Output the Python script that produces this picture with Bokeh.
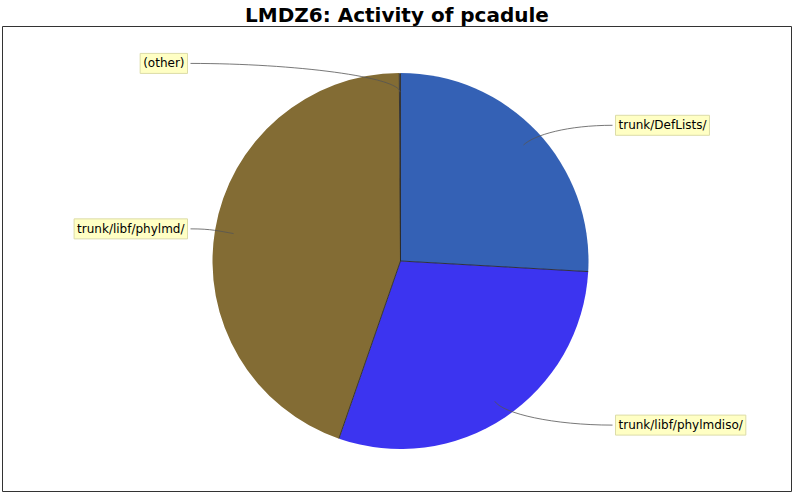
import math
from bokeh.plotting import figure
from bokeh.models import Range1d, ColumnDataSource
from bokeh.core.properties import value
from bokeh.embed import file_html
from bokeh.resources import INLINE

# ---- data (clockwise from 12 o'clock) ----
categories = ["trunk/DefLists/", "trunk/libf/phylmdiso/", "trunk/libf/phylmd/", "(other)"]
shares = [25.9, 29.4, 44.6, 0.1]
colors = ["#3461B5", "#3C34F0", "#836C34", "#7F7F7F"]
title = "LMDZ6: Activity of pcadule"

# ---- layout constants (pixels == data units) ----
R = 188.0
ANCHOR_F = 0.9
LABEL_R = 198.0
RIGHT_X = 212.0
LEFT_X = -210.0

total = float(sum(shares))
starts, ends, mids = [], [], []
a = math.pi / 2
for v in shares:
    b = a - v / total * 2 * math.pi
    starts.append(b)
    ends.append(a)
    mids.append((a + b) / 2)
    a = b

p = figure(width=792, height=492, output_backend="svg", toolbar_location=None,
           x_range=Range1d(-398, 391), y_range=Range1d(-231, 235),
           x_axis_location=None, y_axis_location=None,
           min_border_left=2, min_border_right=1, min_border_bottom=1, min_border_top=0)
p.grid.visible = False
p.outline_line_color = "#333333"
p.outline_line_width = 1
p.background_fill_color = "white"
p.border_fill_color = "white"
p.title.text = title
p.title.align = "center"
p.title.text_font = "DejaVu Sans"
p.title.text_font_size = "20px"
p.title.text_font_style = "bold"
p.title.text_color = "black"
p.title.standoff = 0
p.title.offset = 0

src = ColumnDataSource(dict(start=starts, end=ends, color=colors, cat=categories))
p.wedge(x=0, y=0, radius=R, start_angle="start", end_angle="end", direction="anticlock",
        fill_color="color", line_color=None, source=src)

# separators
bx = [R * math.cos(t) for t in ends]
by = [R * math.sin(t) for t in ends]
p.segment(x0=[0] * len(bx), y0=[0] * len(by), x1=bx, y1=by, line_color="#2A2A2A", line_width=0.9)

# leader lines + labels
ax = [ANCHOR_F * R * math.cos(m) for m in mids]
ay = [ANCHOR_F * R * math.sin(m) for m in mids]
ly = [LABEL_R * math.sin(m) for m in mids]
right = [math.cos(m) >= 0 for m in mids]
lx = [RIGHT_X if r else LEFT_X for r in right]
c0x = [0.98 * R * math.cos(m) for m in mids]
c0y = [0.98 * R * math.sin(m) for m in mids]
c1x = [x - 0.5 * (x - a_) for x, a_ in zip(lx, ax)]
p.bezier(x0=ax, y0=ay, x1=lx, y1=ly, cx0=c0x, cy0=c0y, cx1=c1x, cy1=ly,
         line_color="#555555", line_width=0.8)

for side in (True, False):
    idx = [i for i, r in enumerate(right) if r == side]
    p.text(x=[lx[i] + (3 if side else -3) for i in idx], y=[ly[i] for i in idx],
           text=[categories[i] for i in idx],
           text_align="left" if side else "right", text_baseline="middle",
           text_font=value("DejaVu Sans"), text_font_size="12px", text_color="black",
           background_fill_color="#FFFFC4", border_line_color="#DCDCA8",
           padding=3)

open("out.html", "w").write(file_html(p, INLINE))
